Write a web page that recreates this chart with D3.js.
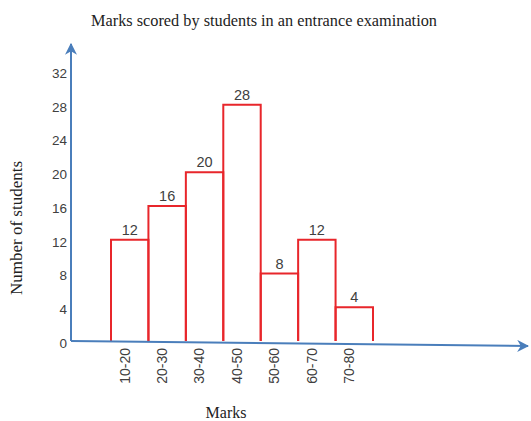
<!DOCTYPE html>
<html><head><meta charset="utf-8">
<script src="https://cdn.jsdelivr.net/npm/d3@7"></script>
<style>body{margin:0;background:#fff}</style>
</head><body>
<script>
const categories = ["10-20","20-30","30-40","40-50","50-60","60-70","70-80"];
const students = [12,16,20,28,8,12,4];
const yTicks = [0,4,8,12,16,20,24,28,32];

const W = 531, H = 421;
const svg = d3.select("body").append("svg").attr("width", W).attr("height", H);

const defs = svg.append("defs");
defs.append("marker").attr("id","arr").attr("viewBox","0 0 10 10").attr("refX",9).attr("refY",5)
  .attr("markerWidth",6).attr("markerHeight",6).attr("orient","auto-start-reverse")
  .append("path").attr("d","M0,0 L10,5 L0,10 L3,5 Z").attr("fill","#4a7ebb");

const x = d3.scaleBand().domain(categories).range([111, 373]).padding(0);
const y = d3.scaleLinear().domain([0, 32]).range([341, 71]);

const serif = "'Liberation Serif', 'Times New Roman', serif";
const sans = "'Liberation Sans', Arial, sans-serif";

// Title
svg.append("text").attr("x", 264).attr("y", 26).attr("text-anchor","middle")
  .attr("font-family",serif).attr("font-size",16.3)
  .attr("fill","#222").text("Marks scored by students in an entrance examination");

// Bars (left, top, right sides)
svg.append("g").selectAll("path").data(students).join("path")
  .attr("d", (d,i) => {
    const x0 = x(categories[i]), x1 = x0 + x.bandwidth();
    return `M${x0},${y(0)}V${y(d)}H${x1}V${y(0)}`;
  })
  .attr("fill","none").attr("stroke","#e8262b").attr("stroke-width",2);

// Value labels
svg.append("g").selectAll("text").data(students).join("text")
  .attr("x", (d,i) => x(categories[i]) + x.bandwidth()/2)
  .attr("y", d => y(d) - 5)
  .attr("text-anchor","middle")
  .attr("font-family",sans).attr("font-size",14.5)
  .attr("fill","#404040").text(d => d);

// Y axis ticks (labels only)
const yAxis = d3.axisLeft(y).tickValues(yTicks).tickSize(0).tickPadding(0);
const gy = svg.append("g").attr("transform","translate(67,2)").call(yAxis);
gy.select(".domain").remove();
gy.selectAll("text").attr("font-family",sans)
  .attr("font-size",13.5).attr("fill","#404040");

// X axis category labels (rotated)
const xAxis = d3.axisBottom(x).tickSize(0);
const gx = svg.append("g").attr("transform",`translate(-5,${y(0)})`).call(xAxis);
gx.select(".domain").remove();
gx.selectAll("text")
  .attr("font-family",sans).attr("font-size",14)
  .attr("fill","#404040")
  .attr("transform","rotate(-90)")
  .attr("text-anchor","end")
  .attr("x",-7).attr("y",0).attr("dy","0.35em");

// Axis lines with arrows
svg.append("line").attr("x1",71).attr("y1",y(0)).attr("x2",71).attr("y2",44)
  .attr("stroke","#4a7ebb").attr("stroke-width",2).attr("marker-end","url(#arr)");
svg.append("line").attr("x1",71).attr("y1",y(0)).attr("x2",528).attr("y2",y(0)+5)
  .attr("stroke","#4a7ebb").attr("stroke-width",2).attr("marker-end","url(#arr)");

// Axis titles
svg.append("text").attr("transform","translate(22,228) rotate(-90)").attr("text-anchor","middle")
  .attr("font-family",serif).attr("font-size",17)
  .attr("fill","#222").text("Number of students");
svg.append("text").attr("x",226).attr("y",418).attr("text-anchor","middle")
  .attr("font-family",serif).attr("font-size",16)
  .attr("fill","#222").text("Marks");
</script>
</body></html>
